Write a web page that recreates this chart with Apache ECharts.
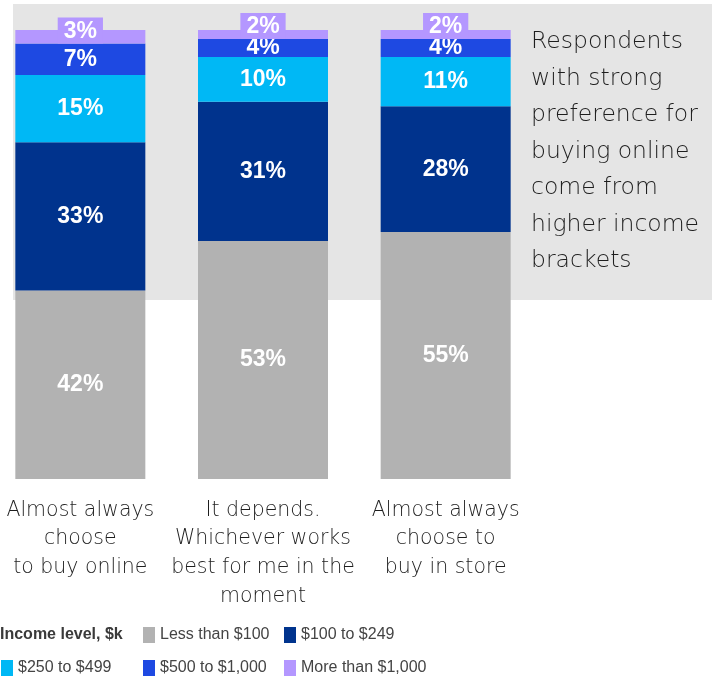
<!DOCTYPE html>
<html>
<head>
<meta charset="utf-8">
<script src="https://cdn.jsdelivr.net/npm/echarts@6/dist/echarts.min.js"></script>
<style>
html,body{margin:0;padding:0;background:#fff;}
#chart{width:718px;height:682px;}
</style>
</head>
<body>
<div id="chart"></div>
<script>
var categories = ['Almost always\nchoose\nto buy online', 'It depends.\nWhichever works\nbest for me in the\nmoment', 'Almost always\nchoose to\nbuy in store'];
var seriesNames = ['Less than $100', '$100 to $249', '$250 to $499', '$500 to $1,000', 'More than $1,000'];
var lessThan100 = [42, 53, 55];
var from100to249 = [33, 31, 28];
var from250to499 = [15, 10, 11];
var from500to1000 = [7, 4, 4];
var moreThan1000 = [3, 2, 2];
var colors = ['#b2b2b2', '#00338d', '#00b8f5', '#1e49e2', '#b497ff'];
var annotation = 'Respondents\nwith strong\npreference for\nbuying online\ncome from\nhigher income\nbrackets';
var legendTitle = 'Income level, $k';

var allData = [lessThan100, from100to249, from250to499, from500to1000, moreThan1000];
var LIGHT = '"DejaVu Sans", sans-serif';
var BOLD = '"Liberation Sans", Arial, sans-serif';
var NARROW = '"Liberation Sans Narrow", "Arial Narrow", "Liberation Sans", sans-serif';

var series = allData.map(function (d, i) {
  var isTop = i === 4;
  return {
    name: seriesNames[i],
    type: 'bar',
    stack: 'total',
    barWidth: 130,
    data: d,
    itemStyle: { color: colors[i] },
    label: isTop ? {
      show: true,
      position: 'insideBottom',
      distance: 0,
      formatter: '{c}%',
      color: '#fff',
      fontFamily: BOLD,
      fontWeight: 'bold',
      fontSize: 23,
      lineHeight: 24,
      backgroundColor: colors[i],
      padding: [2, 6, 0, 6]
    } : {
      show: true,
      position: 'inside',
      formatter: '{c}%',
      color: '#fff',
      fontFamily: BOLD,
      fontWeight: 'bold',
      fontSize: 23
    }
  };
});

var legendPos = [
  { left: 143, top: 627 },
  { left: 284, top: 627 },
  { left: 1, top: 660 },
  { left: 143, top: 660 },
  { left: 284, top: 660 }
];
var legends = seriesNames.map(function (n, i) {
  return {
    data: [n],
    left: legendPos[i].left,
    top: legendPos[i].top,
    itemWidth: 12,
    itemHeight: 16,
    itemGap: 0,
    padding: 0,
    icon: 'rect',
    selectedMode: false,
    textStyle: { fontFamily: NARROW, fontSize: 16, color: '#444' }
  };
});

var chart = echarts.init(document.getElementById('chart'));
chart.setOption({
  animation: false,
  backgroundColor: '#fff',
  grid: { left: -11, width: 548, top: 30, height: 449, outerBoundsMode: 'none', containLabel: false },
  xAxis: {
    type: 'category',
    data: categories,
    axisLine: { show: false },
    axisTick: { show: false },
    axisLabel: {
      margin: 17,
      fontFamily: LIGHT,
      fontWeight: 200,
      fontSize: 20.5,
      lineHeight: 28.7,
      color: '#1e1e1e',
      interval: 0
    }
  },
  yAxis: { type: 'value', min: 0, max: 100, show: false },
  legend: legends,
  graphic: [
    { type: 'rect', z: -10, silent: true, shape: { x: 13, y: 4, width: 699, height: 296 }, style: { fill: '#e5e5e5' } },
    { type: 'text', left: 531, top: 24, style: { text: annotation, fontFamily: LIGHT, fontWeight: 200, fontSize: 23.5, lineHeight: 36.5, fill: '#1e1e1e' } },
    { type: 'text', left: 0, top: 627, style: { text: legendTitle, fontFamily: NARROW, fontWeight: 'bold', fontSize: 16, fill: '#3a3a3a' } }
  ],
  series: series
});
</script>
</body>
</html>
